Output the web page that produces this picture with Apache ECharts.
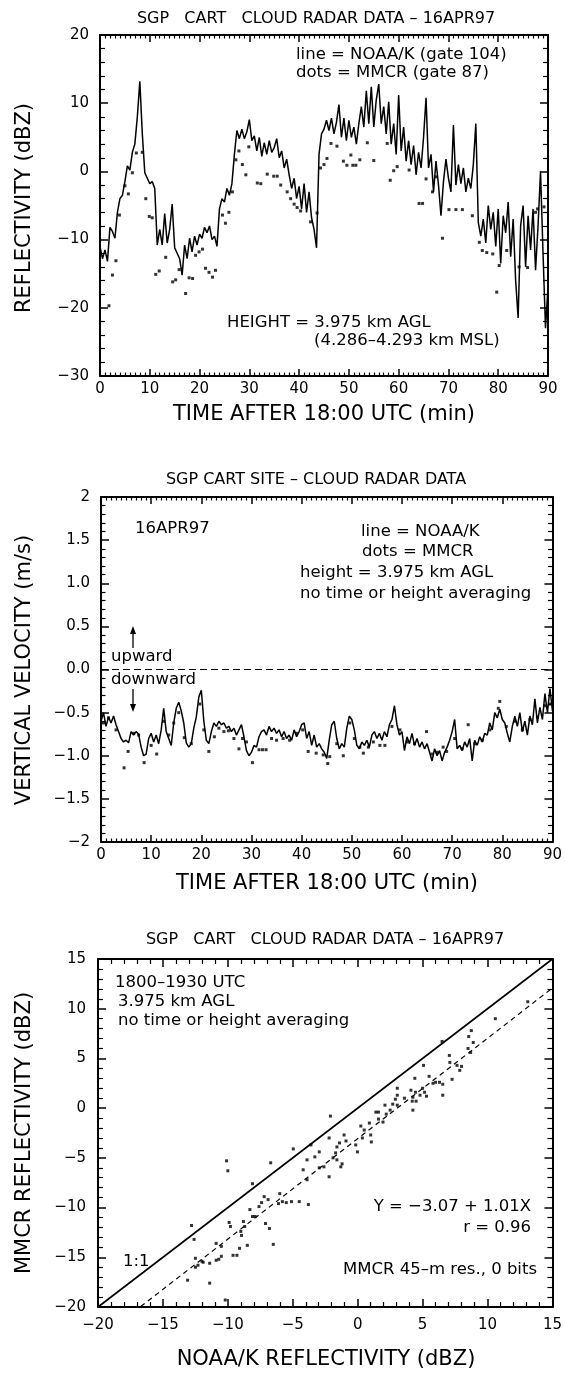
<!DOCTYPE html>
<html>
<head>
<meta charset="utf-8">
<script src="https://cdn.jsdelivr.net/npm/echarts@6/dist/echarts.min.js"></script>
<style>
html, body { margin: 0; padding: 0; background: #fff; }
#chart { width: 565px; height: 1376px; }
</style>
</head>
<body>
<div id="chart"></div>
<script>
// ---- panel 1: reflectivity vs time ----
// NOAA/K line, one value every half minute from 0 to 90 min
const reflStep = 0.5;
const reflNoaa = [
  -11.0, -12.8, -11.5, -13.2, -8.2, -8.8, -9.8, -6.0, -4.0, -3.5,
  -1.5, 0.8, 0.2, 2.8, 4.0, 8.0, 13.2, 5.5, -0.2, -1.0,
  -1.8, -1.5, -2.5, -10.8, -8.5, -10.8, -6.2, -10.5, -8.5, -4.8,
  -11.2, -12.0, -12.8, -15.2, -10.8, -12.8, -9.8, -11.8, -9.5, -10.8,
  -9.2, -9.8, -8.2, -9.0, -8.0, -10.0, -9.5, -11.0, -5.5, -4.0,
  -4.5, -2.5, -3.5, -1.8, 2.5, 6.0, 4.8, 6.2, 4.8, 5.8,
  7.6, 4.5, 5.2, 3.0, 5.0, 2.2, 4.2, 2.5, 4.5, 2.8,
  3.5, 4.8, 2.0, 3.0, 0.5, 1.8, -0.5, -2.5, -1.0, -4.0,
  -2.2, -5.5, -1.8, -6.0, -3.0, -6.8, -8.5, -11.2, 2.5, 5.5,
  6.2, 7.5, 6.0, 7.8, 5.5, 7.2, 9.8, 5.0, 7.8, 4.5,
  7.5, 5.0, 6.5, 4.0, 7.0, 9.5, 6.5, 11.8, 7.0, 12.4,
  6.5, 10.5, 12.8, 7.0, 9.5, 5.5, 10.2, 4.0, 7.0, 2.5,
  11.2, 3.0, 6.5, 1.5, 4.5, 1.0, 3.8, -0.5, 2.8, 0.5,
  5.0, 10.8, 0.5, 2.5, -3.0, 1.5, -2.0, -6.5, -1.5, 1.8,
  -1.0, -3.0, 6.8, -2.0, 1.0, -1.8, 0.5, -3.0, -1.0, -2.5,
  1.0, 7.0, -7.5, -9.5, -7.0, -10.5, -5.0, -8.5, -6.0, -11.0,
  -5.5, -13.5, -6.5, -9.0, -4.5, -12.5, -7.0, -16.0, -21.5, -8.0,
  -5.0, -14.0, -6.5, -11.5, -5.5, -14.5, -8.0, 0.0, -12.0, -23.0,
  -17.0
];
// MMCR dots [min, dBZ]
const reflMmcr = [
  [1.8, -19.7], [2.5, -15.2], [3.2, -13.1], [3.9, -6.4], [5.0, -2.1], [5.7, -3.3], [6.5, -0.2],
  [7.3, 2.7], [8.5, 2.8], [9.2, -4.0], [9.9, -6.6], [10.5, -6.8], [11.2, -15.1], [11.9, -14.6],
  [13.2, -12.6], [14.6, -16.2], [15.2, -15.9], [15.9, -14.4], [17.2, -17.9], [17.9, -15.6],
  [18.6, -15.7], [19.2, -12.3], [19.9, -11.8], [20.6, -11.4], [21.2, -14.2], [21.9, -14.8],
  [22.6, -15.5], [23.2, -14.5], [24.6, -6.4], [25.2, -7.6], [25.9, -6.0], [26.6, -3.0],
  [27.3, 1.7], [27.9, 3.0], [28.6, 1.0], [29.3, -0.5], [29.9, 3.6], [31.6, -1.7], [32.3, -1.8],
  [33.6, -0.4], [34.9, -0.7], [35.6, -0.7], [36.3, -2.0], [37.6, -3.0], [38.3, -4.0],
  [39.0, -4.8], [39.6, -5.3], [40.3, -5.8], [42.3, -7.4], [43.6, -6.1], [44.3, 0.5],
  [45.0, 1.0], [45.6, 1.9], [46.4, 4.1], [47.6, 3.7], [48.9, 1.5], [49.6, 0.9], [50.4, 2.4],
  [50.8, 0.9], [51.4, 0.9], [52.2, 1.7], [53.7, 4.2], [55.0, 1.6], [57.7, 4.1], [58.3, -1.3],
  [59.0, 0.1], [59.7, 0.7], [62.1, 0.2], [64.1, -4.7], [64.8, -4.7], [65.5, -1.1], [66.8, -3.0],
  [67.5, -0.8], [68.8, -9.8], [70.1, -5.6], [71.5, -5.6], [72.8, -5.6], [74.8, -6.5],
  [76.2, -10.4], [76.8, -11.6], [77.7, -11.9], [78.9, -12.1], [79.7, -17.7], [80.2, -13.8],
  [81.7, -11.6], [84.2, -14.0], [85.9, -14.1], [87.5, -6.0], [87.9, -5.5], [89.2, -5.2]
];

// ---- panel 2: vertical velocity vs time ----
const velStep = 0.5;
const velNoaa = [
  -0.60, -0.50, -0.66, -0.55, -0.62, -0.54, -0.64, -0.72, -0.80, -0.84,
  -0.82, -0.85, -0.72, -0.76, -0.72, -0.75, -0.90, -1.00, -0.98, -0.80,
  -0.74, -0.84, -0.76, -0.86, -0.70, -0.45, -0.72, -0.80, -0.88, -0.62,
  -0.45, -0.38, -0.48, -0.62, -0.85, -0.90, -0.86, -0.68, -0.55, -0.32,
  -0.24, -0.60, -0.82, -0.86, -0.72, -0.62, -0.66, -0.60, -0.64, -0.62,
  -0.68, -0.66, -0.72, -0.68, -0.76, -0.70, -0.64, -0.78, -0.94, -1.00,
  -0.96, -0.88, -0.90, -0.78, -0.72, -0.70, -0.76, -0.66, -0.72, -0.68,
  -0.74, -0.70, -0.78, -0.72, -0.80, -0.76, -0.82, -0.70, -0.78, -0.72,
  -0.64, -0.62, -0.80, -0.72, -0.88, -0.76, -0.90, -0.86, -0.92, -0.96,
  -1.03, -0.82, -0.64, -0.60, -0.80, -0.92, -0.86, -0.90, -0.68, -0.54,
  -0.58, -0.70, -0.88, -0.92, -0.84, -0.88, -0.82, -0.90, -0.76, -0.72,
  -0.80, -0.74, -0.82, -0.72, -0.78, -0.64, -0.58, -0.42, -0.64, -0.76,
  -0.72, -0.94, -0.78, -0.86, -0.74, -0.88, -0.80, -0.90, -0.84, -0.92,
  -0.86, -0.96, -1.06, -0.92, -1.00, -0.94, -1.06, -0.96, -0.90, -0.82,
  -0.72, -0.58, -0.92, -0.88, -0.94, -0.84, -0.90, -0.80, -1.06, -0.82,
  -0.88, -0.78, -0.84, -0.74, -0.76, -0.62, -0.70, -0.50, -0.56, -0.46,
  -0.58, -0.62, -0.74, -0.84, -0.66, -0.54, -0.66, -0.50, -0.72, -0.60,
  -0.76, -0.54, -0.64, -0.34, -0.62, -0.44, -0.58, -0.28, -0.50, -0.22,
  -0.48
];
const velMmcr = [
  [0.5, -0.62], [1.5, -0.56], [3.0, -0.70], [4.6, -1.14], [5.4, -0.95], [6.5, -0.74], [7.5, -0.76],
  [8.6, -1.08], [10.0, -0.88], [11.1, -0.98], [12.5, -0.60], [13.5, -0.76], [14.5, -0.62],
  [15.5, -0.50], [16.6, -0.79], [18.0, -0.86], [19.7, -0.40], [20.5, -0.70], [21.5, -0.95],
  [22.6, -0.78], [23.5, -0.68], [24.5, -0.72], [25.4, -0.71], [26.5, -0.80], [27.5, -0.92],
  [28.2, -0.80], [29.0, -0.84], [30.2, -1.08], [31.5, -0.93], [32.2, -0.93], [32.9, -0.93],
  [34.0, -0.80], [35.0, -0.82], [36.3, -0.80], [37.6, -0.82], [39.0, -0.74], [40.2, -0.70],
  [41.3, -0.95], [42.9, -0.97], [44.3, -0.99], [45.2, -1.09], [45.6, -1.01], [47.0, -0.86],
  [48.3, -1.00], [49.6, -0.62], [50.5, -0.80], [51.6, -0.90], [52.3, -0.97], [53.3, -0.90],
  [54.3, -0.84], [55.6, -0.88], [56.6, -0.88], [58.0, -0.66], [59.6, -0.70], [61.0, -0.84],
  [62.5, -0.86], [64.9, -0.72], [66.0, -0.98], [67.0, -0.96], [68.2, -0.90], [68.9, -0.95],
  [70.5, -0.80], [72.0, -0.92], [73.2, -0.64], [74.5, -0.86], [76.0, -0.82], [77.5, -0.70],
  [79.2, -0.45], [79.5, -0.37], [80.8, -0.66], [82.5, -0.60], [84.0, -0.70], [85.5, -0.58],
  [87.0, -0.55], [88.5, -0.42], [89.5, -0.40]
];

// ---- panel 3: MMCR vs NOAA/K reflectivity ----
const scatterPts = [
  [-13.1, -17.3], [-12.8, -11.8], [-12.6, -13.2], [-12.5, -15.1], [-12.5, -16.0], [-12.3, -15.8],
  [-12.0, -15.4], [-11.9, -15.5], [-11.4, -17.6], [-11.4, -15.6], [-10.9, -13.6], [-10.9, -15.3],
  [-10.7, -15.2], [-10.5, -13.9], [-10.5, -14.9], [-10.2, -19.3], [-10.1, -5.3], [-10.0, -6.3],
  [-9.9, -11.5], [-9.8, -11.9], [-9.6, -14.8], [-9.3, -14.8], [-9.1, -14.1], [-9.0, -12.4],
  [-8.95, -12.8], [-8.8, -11.4], [-8.7, -11.9], [-8.5, -13.8], [-8.3, -10.2], [-8.1, -10.9],
  [-8.1, -7.6], [-7.9, -10.9], [-7.6, -9.9], [-7.4, -9.5], [-7.2, -8.9], [-7.1, -11.6],
  [-6.9, -9.2], [-6.8, -12.1], [-6.7, -5.5], [-6.5, -13.7], [-6.1, -9.6], [-6.0, -8.6],
  [-5.8, -9.4], [-5.5, -9.5], [-5.1, -9.4], [-4.96, -4.1], [-4.5, -9.4], [-4.2, -6.2],
  [-3.9, -5.2], [-3.9, -7.2], [-3.8, -9.7], [-3.6, -3.7], [-3.3, -4.9], [-2.96, -4.4],
  [-2.96, -6.0], [-2.6, -5.9], [-2.2, -6.9], [-2.2, -3.0], [-2.1, -0.8], [-1.9, -5.0],
  [-1.7, -4.5], [-1.6, -3.9], [-1.6, -5.2], [-1.4, -3.5], [-1.3, -5.9], [-1.2, -5.6],
  [-1.05, -2.7], [-0.9, -3.3], [-0.15, -3.7], [-0.02, -4.4], [0.24, -1.8], [0.36, -3.0],
  [0.5, -2.2], [0.9, -1.5], [1.0, -2.7], [1.05, -3.4], [1.4, -0.4], [1.6, -0.4], [1.6, -1.1],
  [1.95, -1.4], [2.1, 0.3], [2.2, -0.6], [2.5, -0.2], [2.7, 0.4], [2.9, 0.9], [3.05, 1.3],
  [3.05, 2.0], [3.05, 0.3], [3.6, 1.0], [4.1, 1.8], [4.2, 0.7], [4.25, 1.1], [4.25, -0.2],
  [4.4, 3.0], [4.45, 1.6], [4.5, 0.7], [4.8, 1.3], [5.0, 2.0], [5.07, 4.3], [5.15, 1.6],
  [5.3, 1.2], [5.5, 3.2], [5.8, 2.5], [6.0, 2.6], [6.3, 2.6], [6.5, 6.7], [6.55, 2.4],
  [6.55, 1.3], [7.06, 5.3], [7.1, 4.6], [7.27, 2.9], [7.65, 4.3], [7.86, 3.8], [8.0, 4.2],
  [8.5, 6.0], [8.55, 7.2], [8.7, 5.6], [8.75, 7.8], [8.9, 6.6], [10.6, 9.0], [13.1, 10.7]
];
const fitIntercept = -3.07;
const fitSlope = 1.01;

const TXT = "'DejaVu Sans', sans-serif";

function minus(v) {
  return String(v).replace(/-/g, '\u2212');
}
function velFmt(v) {
  return minus(Math.abs(v) === 2 ? String(v) : v.toFixed(1));
}

// one side of a boxed frame; labels only on the left/bottom ones
function axis(grid, pos, min, max, interval, o) {
  return {
    type: 'value', gridIndex: grid, position: pos,
    min: min, max: max, interval: interval,
    axisLine: { show: true, onZero: false, lineStyle: { color: '#000', width: 2 } },
    axisTick: { show: true, inside: true, length: o.tick, lineStyle: { color: '#000', width: 1.5 } },
    minorTick: { show: true, splitNumber: o.minor, length: o.minorLen,
      lineStyle: { color: '#000', width: 1.2 } },
    axisLabel: { show: !!o.label, margin: o.margin || 6, color: '#000',
      fontFamily: TXT, fontSize: 15, formatter: o.fmt || minus },
    splitLine: { show: false },
    minorSplitLine: { show: false }
  };
}

function txt(text, x, y, size, align, rot) {
  return {
    type: 'text', x: x, y: y, rotation: rot || 0, silent: true,
    style: {
      text: text, fill: '#000', fontFamily: TXT, fontSize: size,
      align: align || 'left', verticalAlign: 'middle',
      textAlign: align || 'left', textVerticalAlign: 'middle'
    }
  };
}

const chart = echarts.init(document.getElementById('chart'));

const titleSize = 16;
const noteSize = 16.5;
const axisTitleSize = 21;

chart.setOption({
  animation: false,
  grid: [
    { left: 100, top: 35, width: 448, height: 341 },
    { left: 101, top: 497, width: 452, height: 345 },
    { left: 98, top: 959, width: 456, height: 348 }
  ],
  xAxis: [
    axis(0, 'bottom', 0, 90, 10, { label: true, tick: 7, minor: 10, minorLen: 3.5 }),
    axis(0, 'top', 0, 90, 10, { tick: 7, minor: 10, minorLen: 3.5 }),
    axis(1, 'bottom', 0, 90, 10, { label: true, tick: 7, minor: 10, minorLen: 3.5 }),
    axis(1, 'top', 0, 90, 10, { tick: 7, minor: 10, minorLen: 3.5 }),
    axis(2, 'bottom', -20, 15, 5, { label: true, tick: 8, minor: 5, minorLen: 5, margin: 11 }),
    axis(2, 'top', -20, 15, 5, { tick: 8, minor: 5, minorLen: 5 })
  ],
  yAxis: [
    axis(0, 'left', -30, 20, 10, { label: true, tick: 8, minor: 5, minorLen: 5, margin: 11 }),
    axis(0, 'right', -30, 20, 10, { tick: 8, minor: 5, minorLen: 5 }),
    axis(1, 'left', -2, 2, 0.5, { label: true, tick: 8, minor: 5, minorLen: 4.5, margin: 11, fmt: velFmt }),
    axis(1, 'right', -2, 2, 0.5, { tick: 8, minor: 5, minorLen: 4.5 }),
    axis(2, 'left', -20, 15, 5, { label: true, tick: 8, minor: 5, minorLen: 5, margin: 12 }),
    axis(2, 'right', -20, 15, 5, { tick: 8, minor: 5, minorLen: 5 })
  ],
  series: [
    {
      name: 'NOAA/K', type: 'line', xAxisIndex: 0, yAxisIndex: 0,
      data: reflNoaa.map(function (v, i) { return [i * reflStep, v]; }),
      symbol: 'none', lineStyle: { color: '#000', width: 1.5 }
    },
    {
      name: 'MMCR', type: 'scatter', xAxisIndex: 0, yAxisIndex: 0,
      data: reflMmcr, symbol: 'rect', symbolSize: 3, itemStyle: { color: '#000' }
    },
    {
      name: 'NOAA/K w', type: 'line', xAxisIndex: 2, yAxisIndex: 2,
      data: velNoaa.map(function (v, i) { return [i * velStep, v]; }),
      symbol: 'none', lineStyle: { color: '#000', width: 1.5 },
      markLine: {
        silent: true, symbol: ['none', 'none'], label: { show: false },
        lineStyle: { color: '#000', type: [7, 4], width: 1.1 },
        data: [{ yAxis: 0 }]
      }
    },
    {
      name: 'MMCR w', type: 'scatter', xAxisIndex: 2, yAxisIndex: 2,
      data: velMmcr, symbol: 'rect', symbolSize: 3, itemStyle: { color: '#000' }
    },
    {
      name: '1:1', type: 'line', xAxisIndex: 4, yAxisIndex: 4,
      data: [[-20, -20], [15, 15]], symbol: 'none',
      lineStyle: { color: '#000', width: 1.6 }
    },
    {
      name: 'fit', type: 'line', xAxisIndex: 4, yAxisIndex: 4,
      data: [[-20, fitIntercept + fitSlope * -20], [15, fitIntercept + fitSlope * 15]],
      symbol: 'none', lineStyle: { color: '#000', width: 1.2, type: [5, 4] }
    },
    {
      name: 'pairs', type: 'scatter', xAxisIndex: 4, yAxisIndex: 4,
      data: scatterPts, symbol: 'rect', symbolSize: 3, itemStyle: { color: '#000' }
    }
  ],
  graphic: [
    // panel 1
    txt('SGP   CART   CLOUD RADAR DATA \u2013 16APR97', 316, 19, titleSize, 'center'),
    txt('line = NOAA/K (gate 104)', 296, 55, noteSize),
    txt('dots = MMCR (gate 87)', 296, 73, noteSize),
    txt('HEIGHT = 3.975 km AGL', 227, 323, noteSize),
    txt('(4.286\u20134.293 km MSL)', 314, 341, noteSize),
    txt('TIME AFTER 18:00 UTC (min)', 324, 415, axisTitleSize, 'center'),
    txt('REFLECTIVITY (dBZ)', 25, 208, axisTitleSize, 'center', Math.PI / 2),
    // panel 2
    txt('SGP CART SITE \u2013 CLOUD RADAR DATA', 316, 480, titleSize, 'center'),
    txt('16APR97', 135, 529, noteSize),
    txt('line = NOAA/K', 361, 532, noteSize),
    txt('dots = MMCR', 362, 552, noteSize),
    txt('height = 3.975 km AGL', 300, 573, noteSize),
    txt('no time or height averaging', 300, 594, noteSize),
    txt('upward', 111, 657, noteSize),
    txt('downward', 111, 680, noteSize),
    { type: 'line', silent: true, shape: { x1: 133, y1: 648, x2: 133, y2: 632 }, style: { stroke: '#000', lineWidth: 1.3 } },
    { type: 'polygon', silent: true, shape: { points: [[133, 626], [130, 634], [136, 634]] }, style: { fill: '#000' } },
    { type: 'line', silent: true, shape: { x1: 133, y1: 689, x2: 133, y2: 706 }, style: { stroke: '#000', lineWidth: 1.3 } },
    { type: 'polygon', silent: true, shape: { points: [[133, 712], [130, 704], [136, 704]] }, style: { fill: '#000' } },
    txt('TIME AFTER 18:00 UTC (min)', 327, 884, axisTitleSize, 'center'),
    txt('VERTICAL VELOCITY (m/s)', 25, 670, axisTitleSize, 'center', Math.PI / 2),
    // panel 3
    txt('SGP   CART   CLOUD RADAR DATA \u2013 16APR97', 325, 940, titleSize, 'center'),
    txt('1800\u20131930 UTC', 115, 983, noteSize),
    txt('3.975 km AGL', 118, 1002, noteSize),
    txt('no time or height averaging', 118, 1021, noteSize),
    txt('Y = \u22123.07 + 1.01X', 531, 1207, noteSize, 'right'),
    txt('r = 0.96', 531, 1228, noteSize, 'right'),
    txt('MMCR 45\u2013m res., 0 bits', 537, 1270, noteSize, 'right'),
    txt('1:1', 123, 1262, noteSize),
    txt('NOAA/K REFLECTIVITY (dBZ)', 326, 1360, axisTitleSize, 'center'),
    txt('MMCR REFLECTIVITY (dBZ)', 25, 1133, axisTitleSize, 'center', Math.PI / 2)
  ]
});
</script>
</body>
</html>
